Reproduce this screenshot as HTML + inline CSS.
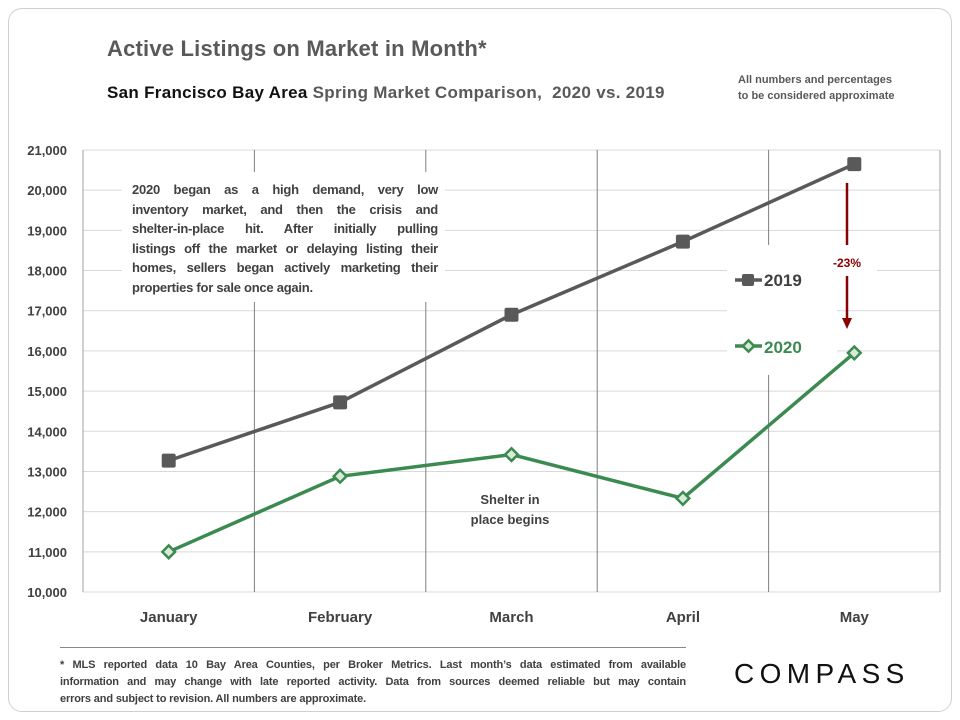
<!DOCTYPE html>
<html><head><meta charset="utf-8"><style>
body{margin:0;width:960px;height:720px;background:#fff;font-family:"Liberation Sans",sans-serif;overflow:hidden}
.card{position:absolute;left:8px;top:8px;width:942px;height:702px;border:1px solid #cfcfcf;border-radius:14px}
.t{position:absolute;font-weight:bold;white-space:nowrap}
.j{text-align:justify;text-align-last:justify;white-space:nowrap}
.j.last{text-align-last:left}
</style></head><body>
<div class="card"></div>
<div class="t" style="left:107px;top:36px;font-size:22px;color:#595959;letter-spacing:0.2px">Active Listings on Market in Month*</div>
<div class="t" style="left:107px;top:83px;font-size:17px;color:#595959;letter-spacing:0.3px"><span style="color:#111">San Francisco Bay Area</span> Spring Market Comparison,&nbsp; 2020 vs. 2019</div>
<div class="t" style="left:738px;top:72px;font-size:11px;color:#595959;line-height:16px">All numbers and percentages<br>to be considered approximate</div>
<svg id="chart" width="960" height="720" style="position:absolute;left:0;top:0"></svg>
<div style="position:absolute;left:122px;top:172px;width:323px;height:130px;background:#fff;padding:8px 0 0 10px;box-sizing:border-box"><div style="width:306px;font-size:13px;letter-spacing:-0.25px;font-weight:bold;color:#404040;line-height:19.5px">
<div class="j">2020 began as a high demand, very low</div>
<div class="j">inventory market, and then the crisis and</div>
<div class="j">shelter-in-place hit. After initially pulling</div>
<div class="j">listings off the market or delaying listing their</div>
<div class="j">homes, sellers began actively marketing their</div>
<div class="j last">properties for sale once again.</div>
</div></div>
<div class="t" style="left:450px;top:490px;width:120px;text-align:center;font-size:13px;color:#404040;line-height:20px">Shelter in<br>place begins</div>
<div style="position:absolute;left:60px;top:647px;width:626px;height:1px;background:#888"></div>
<div style="position:absolute;left:60px;top:657px;width:626px;font-size:11px;letter-spacing:-0.15px;font-weight:bold;color:#404040;line-height:17px">
<div class="j">* MLS reported data 10 Bay Area Counties, per Broker Metrics. Last month’s data estimated from available</div>
<div class="j">information and may change with late reported activity. Data from sources deemed reliable but may contain</div>
<div class="j last">errors and subject to revision. All numbers are approximate.</div>
</div>
<div class="t" style="left:734px;top:658px;font-size:28px;font-weight:normal;letter-spacing:5.4px;color:#111">COMPASS</div>
<script>
const categories=["January","February","March","April","May"];
const series2019=[13270,14720,16900,18720,20650];
const series2020=[11000,12880,13420,12330,15950];
const yTicks=[10000,11000,12000,13000,14000,15000,16000,17000,18000,19000,20000,21000];
const svg=document.getElementById('chart');const NS="http://www.w3.org/2000/svg";
const L=83,R=940,T=150,B=592,yMin=10000,yMax=21000;
const bw=(R-L)/categories.length;
const x=i=>L+bw*(i+0.5);
const y=v=>B-(v-yMin)/(yMax-yMin)*(B-T);
function el(t,a,p){const e=document.createElementNS(NS,t);for(const k in a)e.setAttribute(k,a[k]);(p||svg).appendChild(e);return e;}
yTicks.forEach(v=>{
 const g=el('line',{x1:L,x2:R,y1:y(v),y2:y(v),stroke:'#d9d9d9','stroke-width':1});
 
 
 const t=el('text',{x:67,y:y(v)+5,'text-anchor':'end','font-size':13,'font-weight':'bold',fill:'#404040','font-family':'Liberation Sans'});
 t.textContent=v.toLocaleString('en-US');
 
 
});
for(let i=0;i<=categories.length;i++){
 const g=el('line',{x1:L+bw*i,x2:L+bw*i,y1:T,y2:B,stroke:(i==0||i==categories.length)?'#a0a0a0':'#7f7f7f','stroke-width':1});
 
 
}
categories.forEach((c,i)=>{
 const t=el('text',{x:x(i),y:622,'text-anchor':'middle','font-size':15,'font-weight':'bold',fill:'#404040','font-family':'Liberation Sans'});
 t.textContent=c;
 
 
});
const lb=el('rect',{x:727,y:245,width:110,height:130,fill:'#fff'});


function line(data,color,name){
 const p=el('polyline',{points:data.map((v,i)=>x(i)+','+y(v)).join(' '),fill:'none',stroke:color,'stroke-width':3.5});
 
 
}
line(series2019,'#595959','series-2019');
line(series2020,'#3b8a50','series-2020');
series2019.forEach((v,i)=>{
 const m=el('rect',{x:x(i)-7,y:y(v)-7,width:14,height:14,rx:2,fill:'#595959'});
 
 
});
series2020.forEach((v,i)=>{
 const m=el('rect',{x:x(i)-4.5,y:y(v)-4.5,width:9,height:9,fill:'#d9ead9',stroke:'#3b8a50','stroke-width':2.5,transform:`rotate(45 ${x(i)} ${y(v)})`});
 
 
});
let a=el('line',{x1:735,x2:762,y1:280,y2:280,stroke:'#595959','stroke-width':3.5});

a=el('rect',{x:742,y:274,width:12,height:12,rx:2,fill:'#595959'});

a=el('text',{x:764,y:286,'font-size':17,'font-weight':'bold',fill:'#404040','font-family':'Liberation Sans'});a.textContent='2019';

a=el('line',{x1:735,x2:762,y1:346,y2:346,stroke:'#3b8a50','stroke-width':3.5});

a=el('rect',{x:744.5,y:342,width:8,height:8,fill:'#d9ead9',stroke:'#3b8a50','stroke-width':2.5,transform:'rotate(45 748.5 346)'});

a=el('text',{x:764,y:353,'font-size':17,'font-weight':'bold',fill:'#3b8a50','font-family':'Liberation Sans'});a.textContent='2020';

const ax=847;
a=el('line',{x1:ax,x2:ax,y1:183,y2:245,stroke:'#8b0000','stroke-width':2.5});

a=el('rect',{x:ax-30,y:250,width:60,height:24,fill:'#fff'});

a=el('text',{x:ax,y:267,'text-anchor':'middle','font-size':12,'font-weight':'bold',fill:'#8b0000','font-family':'Liberation Sans'});a.textContent='-23%';

a=el('line',{x1:ax,x2:ax,y1:276,y2:320,stroke:'#8b0000','stroke-width':2.5});

a=el('polygon',{points:`${ax-5},318 ${ax+5},318 ${ax},329`,fill:'#8b0000'});

</script>
</body></html>
